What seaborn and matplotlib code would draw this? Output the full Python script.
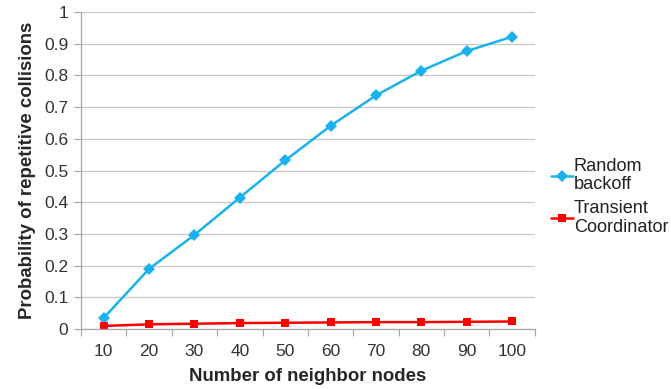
import numpy as np
import pandas as pd
import matplotlib.pyplot as plt
import seaborn as sns

# values
neighbors = ['10', '20', '30', '40', '50', '60', '70', '80', '90', '100']
random_backoff = [0.035, 0.190, 0.297, 0.415, 0.532, 0.641, 0.737, 0.815, 0.877, 0.922]
transient_coord = [0.010, 0.015, 0.017, 0.019, 0.020, 0.021, 0.022, 0.022, 0.023, 0.024]

sns.set_style('white')
plt.rcParams['font.family'] = ['Liberation Sans', 'DejaVu Sans']

fig = plt.figure(figsize=(6.71, 3.89), dpi=100)
ax = fig.add_axes([0.1207, 0.154, 0.797 - 0.1207, 0.969 - 0.154])

pos = np.arange(len(neighbors))
df = pd.DataFrame({'pos': np.concatenate([pos, pos]),
                   'value': random_backoff + transient_coord,
                   'series': ['Random\nbackoff'] * len(pos) + ['Transient\nCoordinator'] * len(pos)})

sns.lineplot(data=df, x='pos', y='value', hue='series', style='series',
             markers={'Random\nbackoff': 'D', 'Transient\nCoordinator': 's'},
             dashes=False, palette={'Random\nbackoff': '#1AB2EC', 'Transient\nCoordinator': '#FF0000'},
             markersize=6, linewidth=1.8, markeredgewidth=0, ax=ax, legend=True)

ax.set_xlim(-0.5, len(neighbors) - 0.5)
ax.set_ylim(0, 1)
ax.set_yticks(np.arange(0, 1.01, 0.1))
ax.set_yticklabels(['0'] + [f'{v:.1f}' for v in np.arange(0.1, 0.95, 0.1)] + ['1'])
ax.set_xticks(pos)
ax.set_xticklabels(neighbors)
ax.set_xticks(np.arange(-0.5, len(neighbors), 1), minor=True)
ax.tick_params(axis='x', which='major', length=0, pad=11, labelsize=12.5, colors='#333333')
ax.tick_params(axis='x', which='minor', length=5, direction='out', color='#A6A6A6', width=0.8, bottom=True)
ax.tick_params(axis='y', length=5, direction='out', color='#A6A6A6', width=0.8, left=True,
               labelsize=12.5, colors='#333333', pad=4)
ax.yaxis.grid(True, color='#C8C8C8', linewidth=0.9)
ax.xaxis.grid(False)
for s in ['top', 'right']:
    ax.spines[s].set_visible(False)
for s in ['left', 'bottom']:
    ax.spines[s].set_color('#A6A6A6')
    ax.spines[s].set_linewidth(0.9)

ax.set_xlabel('Number of neighbor nodes', fontsize=13.4, fontweight='bold', labelpad=6)
ax.set_ylabel('Probability of repetitive collisions', fontsize=13.4, fontweight='bold', labelpad=6)

handles, labels = ax.get_legend_handles_labels()
ax.get_legend().remove()
leg = fig.legend(handles, labels, loc='center left', bbox_to_anchor=(0.821, 0.494),
                 bbox_transform=fig.transFigure, frameon=False, fontsize=13.1,
                 handlelength=1.2, handletextpad=0.05, labelspacing=0.4,
                 borderpad=0, borderaxespad=0)
for t in leg.get_texts():
    t.set_linespacing(1.1)
    t.set_color('#222222')

fig.savefig('out.png', dpi=100)
